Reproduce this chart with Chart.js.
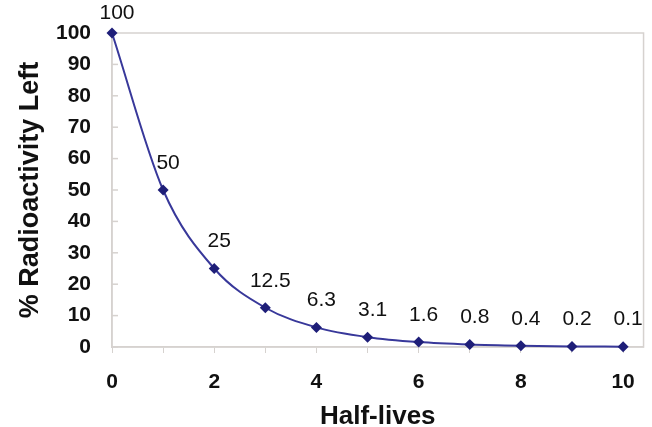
<!DOCTYPE html>
<html>
<head>
<meta charset="utf-8">
<script src="https://cdn.jsdelivr.net/npm/chart.js@4.4.1/dist/chart.umd.min.js"></script>
<style>
  html, body { margin: 0; padding: 0; background: #fff; }
  #wrap { width: 652px; height: 427px; position: relative; }
</style>
</head>
<body>
<div id="wrap"><canvas id="decay-chart"></canvas></div>
<script>
// half-lives elapsed and the percentage left after each one
const halfLives = [0, 1, 2, 3, 4, 5, 6, 7, 8, 9, 10];
const percentLeft = [100, 50, 25, 12.5, 6.25, 3.125, 1.5625, 0.78, 0.39, 0.195, 0.098];
const pointLabels = ['100', '50', '25', '12.5', '6.3', '3.1', '1.6', '0.8', '0.4', '0.2', '0.1'];
const yTicks = [0, 10, 20, 30, 40, 50, 60, 70, 80, 90, 100];

const lineColor = '#38389a';
const frameColor = '#d6d2cf';
const fontFamily = '"Liberation Sans", Arial, sans-serif';

// light frame round the plot area plus short inward ticks on the y axis
const framePlugin = {
    id: 'frame',
    beforeDatasetsDraw(chart) {
        const { ctx, chartArea: a } = chart;
        const y = chart.scales.y;
        ctx.save();
        ctx.strokeStyle = frameColor;
        ctx.lineWidth = 1.5;
        ctx.strokeRect(a.left, a.top, a.right - a.left, a.bottom - a.top);
        yTicks.forEach(v => {
            const py = y.getPixelForValue(v);
            ctx.beginPath();
            ctx.moveTo(a.left, py);
            ctx.lineTo(a.left + 6, py);
            ctx.stroke();
        });
        ctx.restore();
    }
};

// value labels above each point
const labelPlugin = {
    id: 'pointLabels',
    afterDatasetsDraw(chart) {
        const { ctx } = chart;
        const meta = chart.getDatasetMeta(0);
        ctx.save();
        ctx.font = '21px ' + fontFamily;
        ctx.fillStyle = '#111';
        ctx.textAlign = 'center';
        ctx.textBaseline = 'middle';
        meta.data.forEach((pt, i) => {
            ctx.fillText(pointLabels[i], pt.x + 5, Math.max(pt.y - 27, 13));
        });
        ctx.restore();
    }
};

const ctx = document.getElementById('decay-chart').getContext('2d');

new Chart(ctx, {
    type: 'line',
    data: {
        datasets: [{
            data: halfLives.map((x, i) => ({ x: x, y: percentLeft[i] })),
            borderColor: lineColor,
            borderWidth: 2,
            backgroundColor: '#1e1e78',
            pointStyle: 'rectRot',
            pointRadius: 5.5,
            pointBorderWidth: 0,
            cubicInterpolationMode: 'monotone',
            clip: false
        }]
    },
    options: {
        responsive: true,
        maintainAspectRatio: false,
        animation: false,
        layout: { padding: { top: 33, right: 3, left: 0, bottom: 0 } },
        plugins: {
            legend: { display: false },
            tooltip: { enabled: false }
        },
        scales: {
            x: {
                type: 'linear',
                min: 0,
                max: 10.4,
                afterBuildTicks: function(scale) {
                    scale.ticks = halfLives.map(v => ({ value: v }));
                },
                afterFit: function(scale) { scale.height = 80; },
                ticks: {
                    padding: 17,
                    color: '#111',
                    font: { family: fontFamily, size: 21, weight: 'bold' },
                    callback: function(value) {
                        return value % 2 === 0 ? value : '';
                    }
                },
                grid: {
                    drawOnChartArea: false,
                    tickLength: 6,
                    color: frameColor
                },
                border: { color: frameColor, width: 1.5 },
                title: {
                    display: true,
                    text: 'Half-lives',
                    color: '#111',
                    padding: { top: 0, bottom: -5 },
                    font: { family: fontFamily, size: 26, weight: 'bold' }
                }
            },
            y: {
                min: 0,
                max: 100,
                afterBuildTicks: function(scale) {
                    scale.ticks = yTicks.map(v => ({ value: v }));
                },
                afterFit: function(scale) { scale.width = 112; },
                ticks: {
                    padding: 13,
                    color: '#111',
                    font: { family: fontFamily, size: 21, weight: 'bold' }
                },
                grid: { display: false },
                border: { color: frameColor, width: 1.5 },
                title: {
                    display: true,
                    text: '% Radioactivity Left',
                    color: '#111',
                    padding: { top: 14, bottom: 0 },
                    font: { family: fontFamily, size: 27, weight: 'bold' }
                }
            }
        }
    },
    plugins: [framePlugin, labelPlugin]
});
</script>
</body>
</html>
